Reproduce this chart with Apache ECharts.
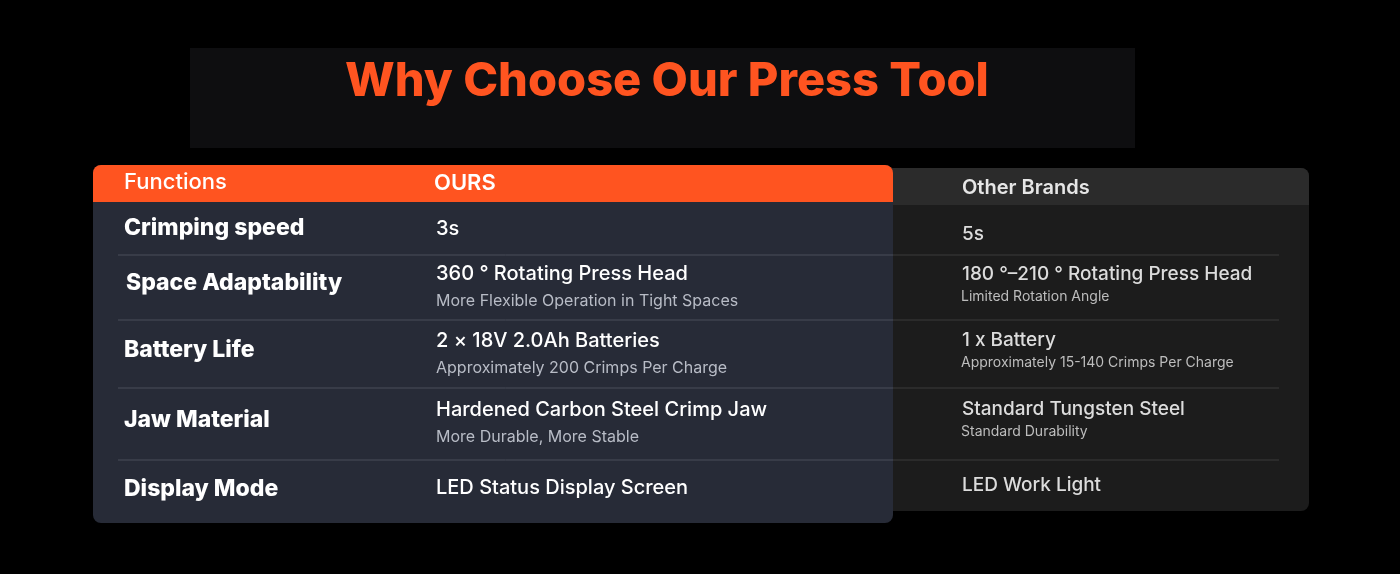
<!DOCTYPE html>
<html>
<head>
<meta charset="utf-8">
<script src="https://cdn.jsdelivr.net/npm/echarts@6/dist/echarts.min.js"></script>
<style>html,body{margin:0;padding:0;background:#000;}#chart{width:1400px;height:574px;}</style>
</head>
<body>
<div id="chart"></div>
<script>
// table content
const title = 'Why Choose Our Press Tool';
const headers = ['Functions', 'OURS', 'Other Brands'];
const functions = ['Crimping speed', 'Space Adaptability', 'Battery Life', 'Jaw Material', 'Display Mode'];
const oursMain = ['3s', '360 ° Rotating Press Head', '2 × 18V 2.0Ah Batteries', 'Hardened Carbon Steel Crimp Jaw', 'LED Status Display Screen'];
const oursSub = ['', 'More Flexible Operation in Tight Spaces', 'Approximately 200 Crimps Per Charge', 'More Durable, More Stable', ''];
const otherMain = ['5s', '180 °–210 ° Rotating Press Head', '1 x Battery', 'Standard Tungsten Steel', 'LED Work Light'];
const otherSub = ['', 'Limited Rotation Angle', 'Approximately 15-140 Crimps Per Charge', 'Standard Durability', ''];

// layout
const labelY = [228, 283, 350, 420, 489];
const oursY = [229, 274, 341, 410, 488];
const otherY = [234, 274, 340, 409, 485];
const dividers = [255, 320, 388, 460];
const font = 'Inter, "Noto Sans", sans-serif';

const chart = echarts.init(document.getElementById('chart'));
const els = [];

els.push({type: 'rect', shape: {x: 190, y: 48, width: 945, height: 100}, style: {fill: '#0e0e10'}});
els.push({type: 'text', x: 667, y: 82, style: {text: title, fill: '#ff5420', font: '800 47px ' + font, align: 'center', verticalAlign: 'middle'}});

// right panel
els.push({type: 'rect', shape: {x: 860, y: 168, width: 449, height: 343, r: 8}, style: {fill: '#1c1c1c'}});
els.push({type: 'rect', shape: {x: 860, y: 168, width: 449, height: 37, r: [8, 8, 0, 0]}, style: {fill: '#2b2b2b'}});
// left panel
els.push({type: 'rect', shape: {x: 93, y: 165, width: 800, height: 358, r: 8}, style: {fill: '#272b37'}});
els.push({type: 'rect', shape: {x: 93, y: 165, width: 800, height: 37, r: [8, 8, 0, 0]}, style: {fill: '#ff5420'}});

els.push({type: 'text', x: 124, y: 182, style: {text: headers[0], fill: '#fff', font: '500 22px ' + font, verticalAlign: 'middle'}});
els.push({type: 'text', x: 434, y: 183, style: {text: headers[1], fill: '#fff', font: '600 22px ' + font, verticalAlign: 'middle'}});
els.push({type: 'text', x: 962, y: 188, style: {text: headers[2], fill: '#e6e6e6', font: '600 20px ' + font, verticalAlign: 'middle'}});

dividers.forEach(function (y) {
  els.push({type: 'line', shape: {x1: 118, y1: y, x2: 893, y2: y}, style: {stroke: '#4a4e5a', lineWidth: 1}});
  els.push({type: 'line', shape: {x1: 893, y1: y, x2: 1279, y2: y}, style: {stroke: '#3a3a3a', lineWidth: 1}});
});

functions.forEach(function (f, i) {
  els.push({type: 'text', x: i === 1 ? 126 : 124, y: labelY[i], style: {text: f, fill: '#fff', font: '800 23px ' + font, verticalAlign: 'middle'}});
  els.push({type: 'text', x: 436, y: oursY[i], style: {text: oursMain[i], fill: '#fff', font: '500 20px ' + font, verticalAlign: 'middle'}});
  if (oursSub[i]) {
    els.push({type: 'text', x: 436, y: oursY[i] + 27, style: {text: oursSub[i], fill: '#b8bcc6', font: '16px ' + font, verticalAlign: 'middle'}});
  }
  els.push({type: 'text', x: 962, y: otherY[i], style: {text: otherMain[i], fill: '#dcdcdc', font: '500 19px ' + font, verticalAlign: 'middle'}});
  if (otherSub[i]) {
    els.push({type: 'text', x: 961, y: otherY[i] + 23, style: {text: otherSub[i], fill: '#bdbdbd', font: '14px ' + font, verticalAlign: 'middle'}});
  }
});

chart.setOption({backgroundColor: '#000', graphic: {elements: els}});
</script>
</body>
</html>
